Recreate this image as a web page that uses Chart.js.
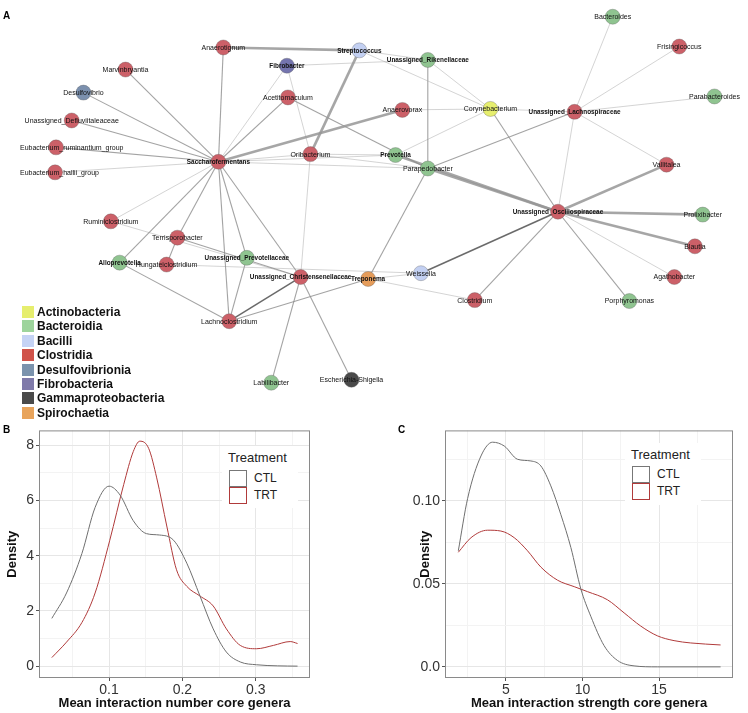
<!DOCTYPE html>
<html>
<head>
<meta charset="utf-8">
<script src="https://cdn.jsdelivr.net/npm/chart.js@4.4.1/dist/chart.umd.min.js"></script>
<style>
body { margin: 0; width: 748px; height: 713px; position: relative; overflow: hidden; background: #fff;
       font-family: "Liberation Sans", Arial, Helvetica, sans-serif; }
.abs { position: absolute; }
.panel { font-weight: bold; font-size: 10px; }
.tax { position: absolute; left: 22px; font-weight: bold; font-size: 12px; line-height: 14px; color: #111; }
.tax span { position: absolute; left: 0; top: 1px; width: 12px; height: 12px; }
.tax b { position: absolute; left: 15px; top: 0; white-space: nowrap; }
.lg { position: absolute; background: #fff; }
.lg .t { position: absolute; left: 6px; top: 4px; font-size: 13px; color: #222; }
.lg .k { position: absolute; left: 7px; width: 18px; height: 17px; box-sizing: border-box; border: 1.5px solid; }
.lg .n { position: absolute; left: 32px; font-size: 12px; color: #222; }
</style>
</head>
<body>
<canvas id="net" class="abs" style="left:0;top:0" width="748" height="410"></canvas>
<canvas id="chartB" class="abs" style="left:0;top:420px" width="374" height="293"></canvas>
<canvas id="chartC" class="abs" style="left:374px;top:420px" width="374" height="293"></canvas>
<div class="abs panel" style="left:3px;top:10px">A</div>
<div class="abs panel" style="left:3px;top:424px">B</div>
<div class="abs panel" style="left:398px;top:424px">C</div>
<div id="taxLegend"></div>
<div class="lg" style="left:222px;top:446px;width:76px;height:62px">
  <div class="t">Treatment</div>
  <div class="k" style="top:24px;border-color:#777"></div><div class="n" style="top:25px">CTL</div>
  <div class="k" style="top:41px;border-color:#b03a3a"></div><div class="n" style="top:42px">TRT</div>
</div>
<div class="lg" style="left:625px;top:443px;width:76px;height:62px">
  <div class="t">Treatment</div>
  <div class="k" style="top:23px;border-color:#777"></div><div class="n" style="top:24px">CTL</div>
  <div class="k" style="top:40px;border-color:#b03a3a"></div><div class="n" style="top:41px">TRT</div>
</div>
<script>
// --- network (panel A) ---
const taxa = ['Actinobacteria', 'Bacteroidia', 'Bacilli', 'Clostridia', 'Desulfovibrionia', 'Fibrobacteria', 'Gammaproteobacteria', 'Spirochaetia'];
const legendColors = ['#e6ee6e', '#9dd49c', '#c5d3f5', '#d0534a', '#7b93ad', '#7f7aaa', '#4a4a4a', '#e8a45c'];
const nodeColors = ['#e6ee6e', '#8fc490', '#c3d0f2', '#cc6068', '#7b90ae', '#7474ae', '#4a4a4a', '#e59c5a'];

const nodeNames = ['Anaerotignum', 'Streptococcus', 'Unassigned_Rikenellaceae', 'Fibrobacter', 'Marvinbryantia',
    'Desulfovibrio', 'Acetitomaculum', 'Unassigned_Defluviitaleaceae', 'Anaerovorax', 'Corynebacterium',
    'Unassigned_Lachnospiraceae', 'Bacteroides', 'Frisingicoccus', 'Parabacteroides', 'Eubacterium_ruminantium_group',
    'Eubacterium_hallii_group', 'Saccharofermentans', 'Oribacterium', 'Prevotella', 'Parapedobacter',
    'Vallitalea', 'Unassigned_Oscillospiraceae', 'Prolixibacter', 'Blautia', 'Agathobacter',
    'Porphyromonas', 'Clostridium', 'Weissella', 'Treponema', 'Ruminiclostridium',
    'Terrisporobacter', 'Hungateiclostridium', 'Alloprevotella', 'Unassigned_Prevotellaceae', 'Unassigned_Christensenellaceae',
    'Lachnoclostridium', 'Labilibacter', 'Escherichia-Shigella'];
// layout coordinates
const nodeX = [220, 359, 429, 285, 120, 77, 286, 65, 403, 493, 579, 618, 686, 722, 49, 48, 215, 309, 396, 429,
    673, 562, 710, 702, 681, 635, 477, 422, 368, 105, 173, 162, 114, 244, 299, 226, 269, 351];
const nodeY = [41, 44, 54, 60, 64, 88, 93, 117, 106, 105, 108, 9, 40, 92, 145, 171, 160, 152, 153, 167,
    163, 212, 215, 248, 280, 305, 304, 276, 282, 222, 239, 267, 265, 260, 280, 326, 390, 387];
const nodeClass = [3, 2, 1, 5, 3, 4, 3, 3, 3, 0, 3, 1, 3, 1, 3, 3, 3, 3, 1, 1,
    3, 3, 1, 3, 3, 1, 3, 2, 7, 3, 3, 3, 1, 1, 3, 3, 1, 6];
const boldNodes = ['Streptococcus', 'Unassigned_Rikenellaceae', 'Fibrobacter', 'Unassigned_Lachnospiraceae',
    'Saccharofermentans', 'Prevotella', 'Unassigned_Oscillospiraceae', 'Treponema', 'Alloprevotella',
    'Unassigned_Prevotellaceae', 'Unassigned_Christensenellaceae'];

// edges: [from, to, strength] t = weak, m = medium, k = strong, d = strong dark
const edges = [
    ['Saccharofermentans', 'Marvinbryantia', 'm'], ['Saccharofermentans', 'Desulfovibrio', 'm'],
    ['Saccharofermentans', 'Unassigned_Defluviitaleaceae', 'm'], ['Saccharofermentans', 'Eubacterium_ruminantium_group', 'm'],
    ['Saccharofermentans', 'Eubacterium_hallii_group', 't'], ['Saccharofermentans', 'Anaerotignum', 'm'],
    ['Saccharofermentans', 'Fibrobacter', 't'], ['Saccharofermentans', 'Acetitomaculum', 'm'],
    ['Saccharofermentans', 'Anaerovorax', 'k'], ['Saccharofermentans', 'Oribacterium', 't'],
    ['Saccharofermentans', 'Prevotella', 't'], ['Saccharofermentans', 'Parapedobacter', 't'],
    ['Saccharofermentans', 'Ruminiclostridium', 't'], ['Saccharofermentans', 'Terrisporobacter', 'm'],
    ['Saccharofermentans', 'Alloprevotella', 'm'], ['Saccharofermentans', 'Unassigned_Prevotellaceae', 'm'],
    ['Saccharofermentans', 'Unassigned_Christensenellaceae', 'm'], ['Saccharofermentans', 'Lachnoclostridium', 'm'],
    ['Anaerotignum', 'Streptococcus', 'k'], ['Streptococcus', 'Oribacterium', 'k'],
    ['Streptococcus', 'Corynebacterium', 't'], ['Streptococcus', 'Unassigned_Rikenellaceae', 't'],
    ['Fibrobacter', 'Unassigned_Rikenellaceae', 't'], ['Fibrobacter', 'Oribacterium', 't'],
    ['Acetitomaculum', 'Parapedobacter', 'm'], ['Unassigned_Rikenellaceae', 'Corynebacterium', 't'],
    ['Unassigned_Rikenellaceae', 'Parapedobacter', 'm'], ['Anaerovorax', 'Corynebacterium', 't'],
    ['Corynebacterium', 'Prevotella', 't'], ['Corynebacterium', 'Unassigned_Lachnospiraceae', 't'],
    ['Corynebacterium', 'Unassigned_Oscillospiraceae', 'm'], ['Unassigned_Lachnospiraceae', 'Bacteroides', 't'],
    ['Unassigned_Lachnospiraceae', 'Frisingicoccus', 't'], ['Unassigned_Lachnospiraceae', 'Parabacteroides', 't'],
    ['Unassigned_Lachnospiraceae', 'Vallitalea', 't'], ['Unassigned_Lachnospiraceae', 'Unassigned_Oscillospiraceae', 't'],
    ['Unassigned_Lachnospiraceae', 'Parapedobacter', 'm'], ['Prevotella', 'Unassigned_Oscillospiraceae', 'k'],
    ['Parapedobacter', 'Unassigned_Oscillospiraceae', 'k'], ['Oribacterium', 'Prevotella', 't'],
    ['Oribacterium', 'Parapedobacter', 't'], ['Oribacterium', 'Unassigned_Christensenellaceae', 't'],
    ['Parapedobacter', 'Treponema', 'm'], ['Treponema', 'Unassigned_Christensenellaceae', 't'],
    ['Treponema', 'Lachnoclostridium', 'm'], ['Treponema', 'Weissella', 't'], ['Treponema', 'Clostridium', 't'],
    ['Weissella', 'Unassigned_Oscillospiraceae', 'd'], ['Clostridium', 'Unassigned_Oscillospiraceae', 'm'],
    ['Unassigned_Oscillospiraceae', 'Prolixibacter', 'k'], ['Unassigned_Oscillospiraceae', 'Blautia', 'k'],
    ['Unassigned_Oscillospiraceae', 'Agathobacter', 't'], ['Unassigned_Oscillospiraceae', 'Porphyromonas', 'm'],
    ['Unassigned_Oscillospiraceae', 'Vallitalea', 'k'], ['Unassigned_Christensenellaceae', 'Lachnoclostridium', 'd'],
    ['Unassigned_Christensenellaceae', 'Labilibacter', 'm'], ['Unassigned_Christensenellaceae', 'Escherichia-Shigella', 'm'],
    ['Unassigned_Christensenellaceae', 'Terrisporobacter', 'm'], ['Unassigned_Christensenellaceae', 'Ruminiclostridium', 't'],
    ['Terrisporobacter', 'Hungateiclostridium', 'm'], ['Hungateiclostridium', 'Weissella', 't'],
    ['Unassigned_Prevotellaceae', 'Lachnoclostridium', 'm'], ['Alloprevotella', 'Lachnoclostridium', 'm'],
];

// --- density (panels B and C) ---
const bTicksX = [0.1, 0.2, 0.3];
const bTicksY = [0, 2, 4, 6, 8];
const ctlBx = [0.022, 0.042, 0.063, 0.081, 0.1, 0.115, 0.133, 0.151, 0.169, 0.188, 0.206, 0.224, 0.242, 0.26, 0.279, 0.301, 0.33, 0.357];
const ctlBy = [1.73, 2.65, 4.08, 5.75, 6.52, 6.2, 5.27, 4.8, 4.75, 4.56, 3.73, 2.54, 1.35, 0.51, 0.15, 0.05, 0.01, 0.0];
const trtBx = [0.022, 0.042, 0.063, 0.081, 0.101, 0.12, 0.133, 0.142, 0.154, 0.165, 0.179, 0.192, 0.206, 0.224, 0.242, 0.26, 0.279, 0.301, 0.324, 0.347, 0.357];
const trtBy = [0.31, 0.87, 1.58, 2.65, 4.56, 6.58, 7.77, 8.15, 7.89, 6.82, 5.04, 3.49, 2.89, 2.54, 2.18, 1.35, 0.75, 0.63, 0.75, 0.89, 0.82];

const cTicksX = [5, 10, 15];
const cTicksY = [0, 0.05, 0.1];
const ctlCx = [1.89, 2.5, 3.37, 4.13, 4.89, 5.76, 6.63, 7.28, 7.93, 8.59, 9.24, 9.89, 10.54, 11.41, 12.28, 13.37, 14.89, 19.02];
const ctlCy = [0.0699, 0.1015, 0.127, 0.1353, 0.133, 0.125, 0.124, 0.121, 0.109, 0.0916, 0.0719, 0.047, 0.0305, 0.0128, 0.0039, 0.0006, 0, 0];
const trtCx = [1.89, 2.72, 3.8, 4.67, 5.54, 6.41, 7.28, 8.37, 9.46, 10.33, 11.63, 12.72, 13.8, 14.89, 15.98, 17.07, 19.02];
const trtCy = [0.069, 0.0778, 0.0823, 0.0818, 0.0778, 0.0699, 0.0601, 0.0522, 0.0483, 0.0453, 0.0404, 0.0325, 0.0246, 0.0187, 0.0158, 0.0144, 0.0132];

const FONT = '"Liberation Sans", Arial, Helvetica, sans-serif';

// taxonomy legend
const taxLegend = document.getElementById('taxLegend');
taxa.forEach((t, i) => {
    const d = document.createElement('div');
    d.className = 'tax';
    d.style.top = (305 + i * 14.4) + 'px';
    d.innerHTML = '<span style="background:' + legendColors[i] + '"></span><b>' + t + '</b>';
    taxLegend.appendChild(d);
});

const edgeStyle = {
    t: { color: 'rgba(165,165,165,0.6)', width: 0.8 },
    m: { color: 'rgba(140,140,140,0.8)', width: 1.1 },
    k: { color: 'rgba(150,150,150,0.85)', width: 2.6 },
    d: { color: 'rgba(90,90,90,0.9)', width: 1.5 },
};

const idx = (name) => nodeNames.indexOf(name);
const pt = (i) => ({ x: nodeX[i], y: nodeY[i] });

const edgeSets = edges.map(([a, b, s]) => ({
    data: [pt(idx(a)), pt(idx(b))],
    showLine: true,
    borderColor: edgeStyle[s].color,
    borderWidth: edgeStyle[s].width,
    pointRadius: 0,
    order: 1,
}));

// labels centred on the node, kept inside the drawing margin
const nodeLabels = {
    id: 'nodeLabels',
    afterDatasetsDraw(chart) {
        const ctx = chart.ctx;
        const xs = chart.scales.x;
        const ys = chart.scales.y;
        ctx.save();
        ctx.textAlign = 'left';
        ctx.textBaseline = 'middle';
        ctx.fillStyle = '#111';
        nodeNames.forEach((n, i) => {
            const bold = boldNodes.includes(n);
            ctx.font = bold ? 'bold 6.4px ' + FONT : '7px ' + FONT;
            const w = ctx.measureText(n).width;
            let left = xs.getPixelForValue(nodeX[i]) - w / 2;
            left = Math.max(20, Math.min(left, 746 - w));
            ctx.fillText(n, left, ys.getPixelForValue(nodeY[i]) + 0.5);
        });
        ctx.restore();
    },
};

new Chart(document.getElementById('net').getContext('2d'), {
    type: 'scatter',
    data: {
        datasets: [{
            data: nodeNames.map((n, i) => pt(i)),
            pointRadius: 7.5,
            pointBackgroundColor: nodeClass.map((c) => nodeColors[c]),
            pointBorderColor: 'rgba(90,90,90,0.55)',
            pointBorderWidth: 0.6,
            order: 0,
        }, ...edgeSets],
    },
    options: {
        responsive: false,
        animation: false,
        events: [],
        layout: { padding: 0 },
        plugins: { legend: { display: false }, tooltip: { enabled: false } },
        scales: {
            x: { type: 'linear', min: 0, max: 748, display: false },
            y: { type: 'linear', min: 0, max: 410, reverse: true, display: false },
        },
    },
    plugins: [nodeLabels],
});

// ggplot-like frame around the panel
const panelBox = {
    id: 'panelBox',
    afterDraw(chart) {
        const a = chart.chartArea;
        const ctx = chart.ctx;
        ctx.save();
        ctx.strokeStyle = '#8a8a8a';
        ctx.lineWidth = 1;
        ctx.strokeRect(a.left + 0.5, a.top + 0.5, a.right - a.left - 1, a.bottom - a.top - 1);
        ctx.restore();
    },
};

function densityChart(id, opts) {
    const majorX = opts.ticksX;
    const majorY = opts.ticksY;
    const isMajor = (list, v) => list.some((m) => Math.abs(m - v) < 1e-9);
    return new Chart(document.getElementById(id).getContext('2d'), {
        type: 'scatter',
        data: {
            datasets: [
                { label: 'CTL', data: opts.ctlX.map((x, i) => ({ x, y: opts.ctlY[i] })), borderColor: '#6f6f6f' },
                { label: 'TRT', data: opts.trtX.map((x, i) => ({ x, y: opts.trtY[i] })), borderColor: '#b03a3a' },
            ].map((d) => Object.assign(d, { showLine: true, borderWidth: 1, pointRadius: 0, cubicInterpolationMode: 'monotone' })),
        },
        options: {
            responsive: false,
            animation: false,
            events: [],
            layout: { padding: opts.padding },
            plugins: { legend: { display: false }, tooltip: { enabled: false } },
            scales: {
                x: {
                    type: 'linear',
                    min: opts.xMin,
                    max: opts.xMax,
                    afterBuildTicks: (s) => { s.ticks = opts.gridX.map((v) => ({ value: v })); },
                    afterFit: (s) => { s.height = 35; },
                    border: { display: false },
                    grid: {
                        color: (c) => isMajor(majorX, c.tick.value) ? '#e6e6e6' : '#f3f3f3',
                        tickColor: (c) => isMajor(majorX, c.tick.value) ? '#555' : 'rgba(0,0,0,0)',
                        tickLength: 3,
                    },
                    ticks: {
                        autoSkip: false,
                        maxRotation: 0,
                        padding: 1,
                        color: '#333',
                        font: { family: FONT, size: 14 },
                        callback: (v) => isMajor(majorX, v) ? opts.fmtX(v) : '',
                    },
                    title: {
                        display: true,
                        text: opts.titleX,
                        color: '#111',
                        padding: { top: 0, bottom: 2 },
                        font: { family: FONT, size: 13, weight: 'bold' },
                    },
                },
                y: {
                    type: 'linear',
                    min: opts.yMin,
                    max: opts.yMax,
                    afterBuildTicks: (s) => { s.ticks = opts.gridY.map((v) => ({ value: v })); },
                    afterFit: (s) => { s.width = opts.yWidth; },
                    border: { display: false },
                    grid: {
                        color: (c) => isMajor(majorY, c.tick.value) ? '#e6e6e6' : '#f3f3f3',
                        tickColor: (c) => isMajor(majorY, c.tick.value) ? '#555' : 'rgba(0,0,0,0)',
                        tickLength: 3,
                    },
                    ticks: {
                        autoSkip: false,
                        padding: 2,
                        color: '#333',
                        font: { family: FONT, size: 14 },
                        callback: (v) => isMajor(majorY, v) ? opts.fmtY(v) : '',
                    },
                    title: {
                        display: true,
                        text: 'Density',
                        color: '#111',
                        padding: { top: opts.yTitlePad, bottom: 0 },
                        font: { family: FONT, size: 13, weight: 'bold' },
                    },
                },
            },
        },
        plugins: [panelBox],
    });
}

densityChart('chartB', {
    ctlX: ctlBx, ctlY: ctlBy, trtX: trtBx, trtY: trtBy,
    ticksX: bTicksX, ticksY: bTicksY,
    gridX: [0.05, 0.1, 0.15, 0.2, 0.25, 0.3, 0.35],
    gridY: [0, 1, 2, 3, 4, 5, 6, 7, 8],
    xMin: 0.0045, xMax: 0.374, yMin: -0.43, yMax: 8.54,
    fmtX: (v) => v.toFixed(1), fmtY: (v) => String(v),
    titleX: 'Mean interaction number core genera',
    yWidth: 39, yTitlePad: 5,
    padding: { left: 0, right: 64, top: 7, bottom: 0 },
});

densityChart('chartC', {
    ctlX: ctlCx, ctlY: ctlCy, trtX: trtCx, trtY: trtCy,
    ticksX: cTicksX, ticksY: cTicksY,
    gridX: [2.5, 5, 7.5, 10, 12.5, 15, 17.5],
    gridY: [0, 0.025, 0.05, 0.075, 0.1, 0.125],
    xMin: 1.02, xMax: 19.83, yMin: -0.0067, yMax: 0.1424,
    fmtX: (v) => String(v), fmtY: (v) => v === 0 ? '0.0' : v.toFixed(2),
    titleX: 'Mean interaction strength core genera',
    yWidth: 71, yTitlePad: 44,
    padding: { left: 0, right: 15, top: 6, bottom: 0 },
});
</script>
</body>
</html>
